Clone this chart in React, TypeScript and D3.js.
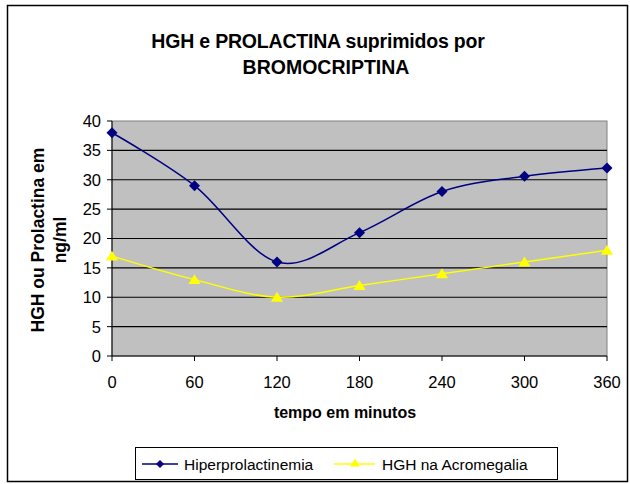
import * as React from 'react';
import * as d3 from 'd3';

// time points (minutes)
const minutes = [0, 60, 120, 180, 240, 300, 360];
// series values (ng/ml)
const hiperprolactinemia = [38, 29, 16, 21, 28, 30.6, 32];
const hghAcromegalia = [17, 13, 10, 12, 14, 16, 18];
const yTicks = [0, 5, 10, 15, 20, 25, 30, 35, 40];

const W = 630;
const H = 484;
const plot = { left: 112, top: 121, right: 607, bottom: 356 };
const font = '"Liberation Sans", Arial, sans-serif';

const diamondPath = (r: number) => `M0,${-r}L${r},0L0,${r}L${-r},0Z`;
const trianglePath = (r: number) => `M0,${-r}L${r * 1.1},${r * 0.8}L${-r * 1.1},${r * 0.8}Z`;

export default function App() {
  const x = d3.scaleLinear().domain([0, 360]).range([plot.left, plot.right]);
  const y = d3.scaleLinear().domain([0, 40]).range([plot.bottom, plot.top]);

  const line = d3
    .line<number>()
    .x((_, i) => x(minutes[i]))
    .y((d) => y(d))
    .curve(d3.curveCatmullRom.alpha(0));

  return (
    <svg width={W} height={H} style={{ position: 'absolute', left: 0, top: 0 }} fontFamily={font}>
      <rect x={0} y={0} width={W} height={H} fill="#fff" />
      <rect x={7.5} y={5.5} width={620} height={476} fill="#fff" stroke="#000" strokeWidth={1.5} />

      {/* title */}
      <text x={318} y={48} textAnchor="middle" fontWeight="bold" fontSize={19.5} letterSpacing={-0.2}>
        HGH e PROLACTINA suprimidos por
      </text>
      <text x={326} y={74} textAnchor="middle" fontWeight="bold" fontSize={19.5}>
        BROMOCRIPTINA
      </text>

      {/* plot area */}
      <rect
        x={plot.left}
        y={plot.top}
        width={plot.right - plot.left}
        height={plot.bottom - plot.top}
        fill="#C0C0C0"
        stroke="#808080"
      />
      {yTicks.slice(1, -1).map((t) => (
        <line key={t} x1={plot.left} x2={plot.right} y1={y(t)} y2={y(t)} stroke="#000" strokeWidth={1.2} />
      ))}

      {/* y axis */}
      <line x1={plot.left} x2={plot.left} y1={plot.top} y2={plot.bottom} stroke="#000" />
      {yTicks.map((t) => (
        <g key={t}>
          <line x1={plot.left - 5} x2={plot.left} y1={y(t)} y2={y(t)} stroke="#000" />
          <text x={plot.left - 11} y={y(t)} dy="0.36em" textAnchor="end" fontSize={16.5}>
            {t}
          </text>
        </g>
      ))}

      {/* x axis */}
      <line x1={plot.left} x2={plot.right} y1={plot.bottom} y2={plot.bottom} stroke="#000" />
      {minutes.map((m) => (
        <g key={m}>
          <line x1={x(m)} x2={x(m)} y1={plot.bottom} y2={plot.bottom + 5} stroke="#000" />
          <text x={x(m)} y={388} textAnchor="middle" fontSize={16.5}>
            {m}
          </text>
        </g>
      ))}

      <text x={345} y={418} textAnchor="middle" fontWeight="bold" fontSize={16}>
        tempo em minutos
      </text>
      <g transform="translate(38,240) rotate(-90)">
        <text x={0} y={0} dy="0.36em" textAnchor="middle" fontWeight="bold" fontSize={17.5}>
          HGH ou Prolactina em
        </text>
        <text x={0} y={22} dy="0.36em" textAnchor="middle" fontWeight="bold" fontSize={17.5}>
          ng/ml
        </text>
      </g>

      {/* series */}
      <path d={line(hiperprolactinemia) ?? ''} fill="none" stroke="#000080" strokeWidth={1.5} />
      <path d={line(hghAcromegalia) ?? ''} fill="none" stroke="#FFFF00" strokeWidth={1.5} />
      {hiperprolactinemia.map((v, i) => (
        <path key={i} d={diamondPath(5.5)} transform={`translate(${x(minutes[i])},${y(v)})`} fill="#000080" />
      ))}
      {hghAcromegalia.map((v, i) => (
        <path key={i} d={trianglePath(5.5)} transform={`translate(${x(minutes[i])},${y(v)})`} fill="#FFFF00" />
      ))}

      {/* legend */}
      <rect x={135.5} y={447.5} width={422} height={32} fill="#fff" stroke="#000" />
      <line x1={142} x2={178} y1={464} y2={464} stroke="#000080" strokeWidth={1.5} />
      <path d={diamondPath(4)} transform="translate(160,464)" fill="#000080" />
      <text x={184} y={470} fontSize={15.5}>
        Hiperprolactinemia
      </text>
      <line x1={334} x2={375} y1={464} y2={464} stroke="#FFFF00" strokeWidth={1.5} />
      <path d={trianglePath(4.5)} transform="translate(355,463)" fill="#FFFF00" />
      <text x={382} y={470} fontSize={15.5}>
        HGH na Acromegalia
      </text>
    </svg>
  );
}
